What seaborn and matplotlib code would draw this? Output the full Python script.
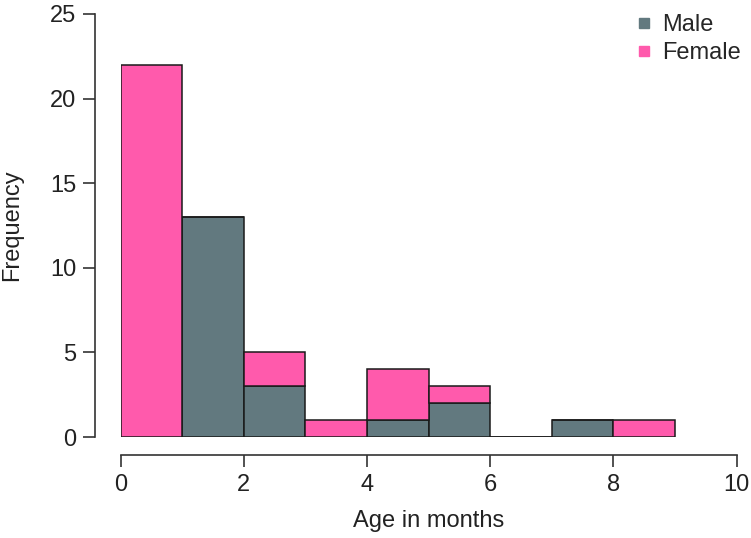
import numpy as np
import pandas as pd
import matplotlib
matplotlib.use("Agg")
import matplotlib.pyplot as plt
from matplotlib.lines import Line2D
import seaborn as sns

# ── Data (counts per 1-month bin) ───────────────────────────────────────────
BIN_EDGES = [0, 1, 2, 3, 4, 5, 6, 7, 8, 9]
MALE_COUNTS = [0, 13, 3, 0, 1, 2, 0, 1, 0]
FEMALE_COUNTS = [22, 0, 2, 1, 3, 1, 0, 0, 1]
SEXES = ["Male", "Female"]
COLORS = {"Male": "#62797f", "Female": "#ff5aac"}
X_TICKS = [0, 2, 4, 6, 8, 10]
Y_TICKS = [0, 5, 10, 15, 20, 25]

sns.set_theme(style="white")
plt.rcParams["font.family"] = ["Liberation Sans", "DejaVu Sans"]
FS = 17

centers = [(a + b) / 2 for a, b in zip(BIN_EDGES[:-1], BIN_EDGES[1:])]
df = pd.DataFrame({
    "age": centers * 2,
    "count": MALE_COUNTS + FEMALE_COUNTS,
    "sex": ["Male"] * len(centers) + ["Female"] * len(centers),
})

fig = plt.figure(figsize=(7.51, 5.38), dpi=100)
# data area: x 0..10 -> px 120.5..736.5, y 0..25 -> px 437..14
ax = fig.add_axes([120.5 / 751, 101 / 538, 616 / 751, 423 / 538])

sns.histplot(
    data=df, x="age", weights="count", hue="sex", hue_order=SEXES[::-1],
    bins=BIN_EDGES, multiple="stack", palette=COLORS, alpha=1,
    edgecolor="#1a1a1a", linewidth=1.1, legend=False, ax=ax,
)

ax.set_xlim(0, 10)
ax.set_ylim(0, 25)
ax.margins(0)

# R-style detached axes
for s in ["top", "right"]:
    ax.spines[s].set_visible(False)
ax.spines["left"].set_position(("outward", 18.4))
ax.spines["bottom"].set_position(("outward", 13))
ax.spines["left"].set_bounds(0, 25)
ax.spines["bottom"].set_bounds(0, 10)
for s in ["left", "bottom"]:
    ax.spines[s].set_color("#333333")
    ax.spines[s].set_linewidth(1.2)

ax.set_xticks(X_TICKS)
ax.set_yticks(Y_TICKS)
ax.tick_params(axis="both", direction="out", length=8.5, width=1.2,
               color="#333333", labelsize=FS, labelcolor="#222222",
               bottom=True, left=True, pad=5)
ax.set_xlabel("Age in months", fontsize=FS, color="#222222")
ax.set_ylabel("Frequency", fontsize=FS, color="#222222")
ax.xaxis.set_label_coords(0.5, -0.172)
ax.yaxis.set_label_coords(-0.158, 0.5)

handles = [Line2D([], [], marker="s", linestyle="none", markersize=6.5,
                  markerfacecolor=COLORS[s], markeredgecolor=COLORS[s])
           for s in SEXES]
ax.legend(handles, SEXES, loc="upper left", bbox_to_anchor=(0.834, 1.0),
          frameon=False, fontsize=FS, handletextpad=0.4, labelspacing=0.25,
          handlelength=0.8, borderpad=0, borderaxespad=0)

fig.savefig("out.png", dpi=100)
